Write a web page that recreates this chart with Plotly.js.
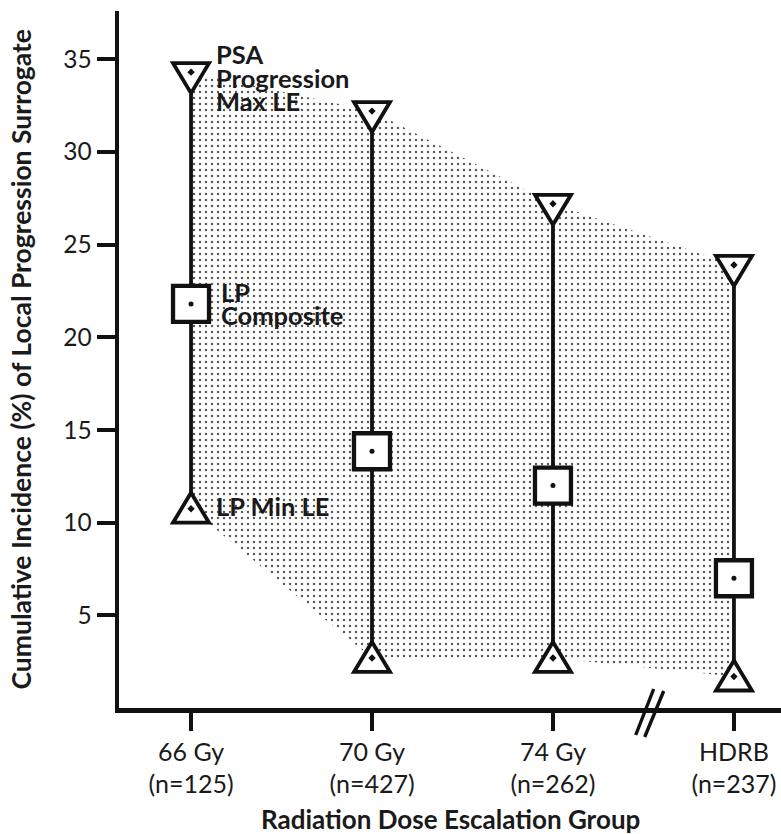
<!DOCTYPE html>
<html>
<head>
<meta charset="utf-8">
<script src="https://cdn.plot.ly/plotly-3.0.1.min.js"></script>
<style>html,body{margin:0;padding:0;background:#fff;}#chart{width:781px;height:834px;}</style>
</head>
<body>
<div id="chart"></div>
<script>
// ---- data ----
const categories = ['66 Gy', '70 Gy', '74 Gy', 'HDRB'];
const cohortN = [125, 427, 262, 237];
const xPos = [0, 1, 2, 3];
const psaMaxLE = [34.3, 32.2, 27.2, 23.9];
const lpComposite = [21.8, 13.85, 12.0, 7.0];
const lpMinLE = [10.75, 2.7, 2.7, 1.7];
const yTicks = [5, 10, 15, 20, 25, 30, 35];

const FONT = 'Lato, "Open Sans", sans-serif';
const INK = '#1a1a1a';

const tickText = categories.map((c, i) => c + '<br>(n=' + cohortN[i] + ')');

// vertical range lines
const vx = [], vy = [];
xPos.forEach((x, i) => { vx.push(x, x, null); vy.push(lpMinLE[i], psaMaxLE[i], null); });

const traces = [
  { x: xPos, y: psaMaxLE, mode: 'lines', line: {width: 0, color: 'rgba(0,0,0,0)'}, hoverinfo: 'skip', showlegend: false },
  { x: xPos, y: lpMinLE, mode: 'lines', line: {width: 0, color: 'rgba(0,0,0,0)'}, fill: 'tonexty',
    fillcolor: 'rgba(255,255,255,0)',
    fillpattern: {shape: '.', size: 6, solidity: 0.12, fgcolor: '#555', bgcolor: 'rgba(255,255,255,0)'},
    hoverinfo: 'skip', showlegend: false },
  { x: vx, y: vy, mode: 'lines', line: {width: 3.8, color: '#111'}, hoverinfo: 'skip', showlegend: false },
  { x: xPos, y: lpComposite, mode: 'markers', cliponaxis: false,
    marker: {symbol: 'square', size: 36, color: '#fff', line: {width: 4.3, color: '#111'}},
    showlegend: false },
  { x: xPos, y: lpComposite, mode: 'markers', cliponaxis: false,
    marker: {symbol: 'circle', size: 5, color: '#111', line: {width: 0}},
    showlegend: false }
];

// triangle markers (pixel-sized shapes anchored at the data values)
const dot = ' M0,1 L1,0 L0,-1 L-1,0 Z';
const triDown = 'M-18,9 L18,9 L0,-21 Z' + dot;
const triUp = 'M-18,-14 L18,-14 L0,16 Z' + dot;
const shapes = [];
xPos.forEach((x, i) => {
  shapes.push({type: 'path', xref: 'x', yref: 'y', xsizemode: 'pixel', ysizemode: 'pixel',
    xanchor: x, yanchor: psaMaxLE[i], path: triDown, fillcolor: '#fff',
    line: {color: '#111', width: 3.8}, layer: 'above'});
  shapes.push({type: 'path', xref: 'x', yref: 'y', xsizemode: 'pixel', ysizemode: 'pixel',
    xanchor: x, yanchor: lpMinLE[i], path: triUp, fillcolor: '#fff',
    line: {color: '#111', width: 3.8}, layer: 'above'});
});
// axis break marks
shapes.push({type: 'path', xref: 'x', yref: 'paper', xsizemode: 'pixel', ysizemode: 'pixel',
  xanchor: 2.54, yanchor: 0, path: 'M-15,-27 L3,19 M-6,-29 L13,17',
  line: {color: '#111', width: 3.4}, layer: 'above'});

const ann = (txt, y, dx) => ({text: '<b>' + txt + '</b>', xref: 'x', yref: 'y', x: 0, y: y,
  xanchor: 'left', yanchor: 'middle', xshift: dx, showarrow: false,
  font: {family: FONT, size: 25.5, color: INK}});

const annotations = [
  ann('PSA', 35.3, 23),
  ann('Progression', 34.0, 23),
  ann('Max LE', 32.75, 23),
  ann('LP', 22.45, 28),
  ann('Composite', 21.2, 28),
  ann('LP Min LE', 10.9, 23),
  {text: '<b>Radiation Dose Escalation Group</b>', xref: 'paper', yref: 'paper', x: 0.5, y: 0,
   xanchor: 'center', yanchor: 'top', yshift: -93, showarrow: false,
   font: {family: FONT, size: 26, color: INK}},
  {text: '<b>Cumulative Incidence (%) of Local Progression Surrogate</b>', xref: 'paper', yref: 'paper',
   x: -0.1495, y: 0.5, xanchor: 'center', yanchor: 'middle', textangle: -90, showarrow: false,
   font: {family: FONT, size: 26.5, color: INK}}
];

const layout = {
  width: 781, height: 834,
  margin: {l: 119, r: 0, t: 11, b: 126},
  paper_bgcolor: '#fff', plot_bgcolor: '#fff',
  font: {family: FONT, color: INK},
  showlegend: false,
  xaxis: {
    range: [-0.398, 3.26], tickmode: 'array', tickvals: xPos, ticktext: tickText,
    showline: true, linewidth: 4.5, linecolor: '#111', showgrid: false, zeroline: false,
    ticks: 'outside', ticklen: 18, tickwidth: 4, tickcolor: '#111',
    tickfont: {family: FONT, size: 25, color: INK}
  },
  yaxis: {
    range: [0, 37.6], tickmode: 'array', tickvals: yTicks,
    showline: true, linewidth: 4.5, linecolor: '#111', showgrid: false, zeroline: false,
    ticks: 'outside', ticklen: 18, tickwidth: 4, tickcolor: '#111',
    tickfont: {family: FONT, size: 24.5, color: INK}
  },
  shapes: shapes,
  annotations: annotations
};

Plotly.newPlot('chart', traces, layout, {displayModeBar: false, staticPlot: true});
</script>
</body>
</html>
